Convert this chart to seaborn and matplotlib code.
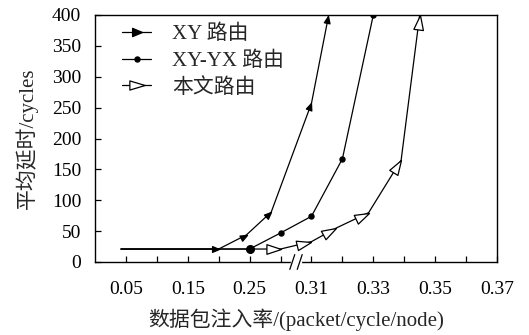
import numpy as np
import pandas as pd
import matplotlib
matplotlib.use('Agg')
import matplotlib.pyplot as plt
import seaborn as sns
from matplotlib.markers import MarkerStyle
from matplotlib.path import Path
from matplotlib.transforms import Affine2D
from matplotlib.lines import Line2D
from matplotlib.ticker import FixedLocator, FixedFormatter

# data
xy_rate = [0.042, 0.20, 0.245, 0.285, 0.31, 0.3155]
xy_delay = [21, 21, 44, 81, 257, 398]
xyyx_rate = [0.042, 0.25, 0.30, 0.31, 0.32, 0.33]
xyyx_delay = [21, 21, 47, 74, 167, 400]
ours_rate = [0.042, 0.30, 0.31, 0.318, 0.3285, 0.339, 0.345]
ours_delay = [21, 21, 33, 55, 80, 165, 400]
labels = ['XY 路由', 'XY-YX 路由', '本文路由']

major_ticks = [0.05, 0.15, 0.25, 0.31, 0.33, 0.35, 0.37]
major_labels = ['0.05', '0.15', '0.25', '0.31', '0.33', '0.35', '0.37']
minor_ticks = [0.10, 0.20, 0.30, 0.32, 0.34, 0.36]
y_ticks = [0, 50, 100, 150, 200, 250, 300, 350, 400]

df = pd.concat([
    pd.DataFrame({'rate': xy_rate, 'delay': xy_delay, 'route': labels[0]}),
    pd.DataFrame({'rate': xyyx_rate, 'delay': xyyx_delay, 'route': labels[1]}),
    pd.DataFrame({'rate': ours_rate, 'delay': ours_delay, 'route': labels[2]}),
])

sns.set_style('ticks')
plt.rcParams['font.family'] = ['Liberation Serif', 'Noto Sans CJK SC']
plt.rcParams['axes.unicode_minus'] = False


# broken x axis: 0.05 per step up to 0.30, then 0.01 per step
def fwd(x):
    x = np.asarray(x, dtype=float)
    return np.where(x <= 0.30, (x - 0.05) / 0.05, 5 + (x - 0.30) / 0.01)


def inv(p):
    p = np.asarray(p, dtype=float)
    return np.where(p <= 5, 0.05 + 0.05 * p, 0.30 + 0.01 * (p - 5))


fig, ax = plt.subplots(figsize=(5.29, 3.35), dpi=100)
fig.subplots_adjust(left=95 / 529, right=497 / 529, top=1 - 15 / 335, bottom=1 - 262 / 335)
ax.set_xscale('function', functions=(fwd, inv))
ax.set_xlim(0.0, 0.37)
ax.set_ylim(0, 400)

sns.lineplot(data=df, x='rate', y='delay', hue='route', sort=False,
             palette=['black'] * 3, linewidth=0.9, legend=False, ax=ax,
             estimator=None)

# arrow-shaped markers whose tip sits on the data point
tip_path = Path([(0, 0), (-1, 0.33), (-1, -0.33), (0, 0)],
                [Path.MOVETO, Path.LINETO, Path.LINETO, Path.CLOSEPOLY])
tip_path_fat = Path([(0, 0), (-1, 0.42), (-1, -0.42), (0, 0)],
                    [Path.MOVETO, Path.LINETO, Path.LINETO, Path.CLOSEPOLY])


def draw_arrows(xs, ys, path, ms, face):
    pts = ax.transData.transform(np.column_stack([xs, ys]))
    for i in range(1, len(xs)):
        d = pts[i] - pts[i - 1]
        ang = np.arctan2(d[1], d[0])
        m = MarkerStyle(path, transform=Affine2D().rotate(ang))
        ax.plot([xs[i]], [ys[i]], linestyle='none', marker=m, markersize=ms,
                markerfacecolor=face, markeredgecolor='black',
                markeredgewidth=0.9, zorder=4)


draw_arrows(xy_rate, xy_delay, tip_path_fat, 10, 'black')
draw_arrows(ours_rate, ours_delay, tip_path, 21, 'white')
ax.plot(xyyx_rate[2:], xyyx_delay[2:], linestyle='none', marker='o',
        markersize=3.6, color='black', zorder=4)
ax.plot(xyyx_rate[1:2], xyyx_delay[1:2], linestyle='none', marker='o',
        markersize=5.5, color='black', zorder=4)

# axes styling
ax.xaxis.set_major_locator(FixedLocator(major_ticks))
ax.xaxis.set_major_formatter(FixedFormatter(major_labels))
ax.xaxis.set_minor_locator(FixedLocator(minor_ticks))
ax.set_yticks(y_ticks)
ax.tick_params(axis='both', which='both', direction='in', length=4.5,
               width=0.9, colors='black', labelsize=14)
ax.tick_params(axis='x', which='both', pad=14)
ax.tick_params(axis='y', pad=10)
for sp in ax.spines.values():
    sp.set_visible(True)
    sp.set_linewidth(1.0)
    sp.set_color('black')

ax.set_xlabel('数据包注入率/(packet/cycle/node)', fontsize=15, labelpad=7)
ax.set_ylabel('平均延时/cycles', fontsize=15, labelpad=10)

# axis break marks
bx0, bx1 = 0.3038, 0.3062
ax.plot([bx0, bx1], [0, 0], color='white', linewidth=2.5,
        transform=ax.get_xaxis_transform(), clip_on=False, zorder=5)
for bx in (bx0, bx1):
    ax.plot([bx - 0.0008, bx + 0.0008], [-0.03, 0.03], color='black',
            linewidth=0.9, transform=ax.get_xaxis_transform(),
            clip_on=False, zorder=6)

# legend
leg_tri = Path([(0.5, 0), (-0.5, 0.42), (-0.5, -0.42), (0.5, 0)],
               [Path.MOVETO, Path.LINETO, Path.LINETO, Path.CLOSEPOLY])
leg_tri2 = Path([(0.5, 0), (-0.5, 0.3), (-0.5, -0.3), (0.5, 0)],
                [Path.MOVETO, Path.LINETO, Path.LINETO, Path.CLOSEPOLY])
handles = [
    Line2D([], [], color='black', linewidth=0.9, marker=MarkerStyle(leg_tri),
           markersize=7, markerfacecolor='black'),
    Line2D([], [], color='black', linewidth=0.9, marker='o', markersize=3.6),
    Line2D([], [], color='black', linewidth=0.9, marker=MarkerStyle(leg_tri2),
           markersize=11, markerfacecolor='white', markeredgewidth=0.9),
]
ax.legend(handles, labels, loc='upper left', bbox_to_anchor=(0.067, 0.96),
          frameon=False, fontsize=15, handlelength=1.4, handletextpad=1.0,
          borderaxespad=0, borderpad=0, labelspacing=0.33)

fig.savefig('out.png', dpi=100)
